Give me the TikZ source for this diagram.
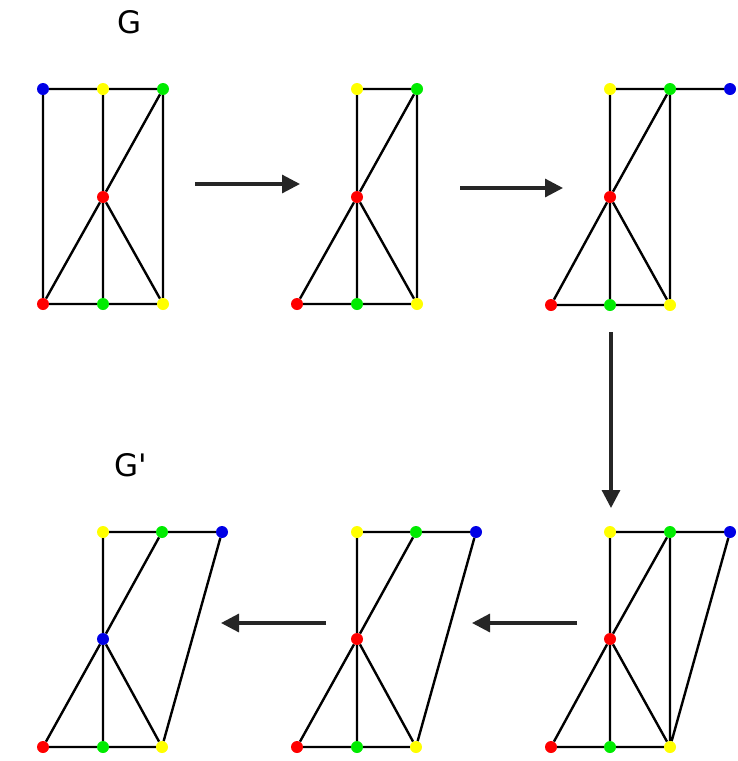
\documentclass[tikz,border=0pt]{standalone}
\usepackage{fontspec}
\setmainfont{DejaVu Sans}[Ligatures=TeXOff]
\usetikzlibrary{arrows.meta}
\definecolor{vred}{RGB}{255,0,0}
\definecolor{vyel}{RGB}{255,255,0}
\definecolor{vgrn}{RGB}{0,235,0}
\definecolor{vblu}{RGB}{0,0,230}
\begin{document}
\begin{tikzpicture}[x=1pt,y=-1pt,
  v/.style={circle,inner sep=0pt,minimum size=12pt,fill=#1},
  ed/.style={line width=2.4pt,black},
  flow/.style={line width=3.2pt,black!85,-{Triangle[length=18pt,width=18pt]}},
  lbl/.style={font=\fontsize{31}{31}\selectfont,inner sep=0pt}]
\useasboundingbox (0,0) rectangle (737,761);
% labels
\node[lbl] (G) at (130,22) {G};
\node[lbl] (Gp) at (131,465) {G'};
% ---------- panel 1
\node[v=vblu] (a1) at (43,89) {};
\node[v=vyel] (a2) at (103,89) {};
\node[v=vgrn] (a3) at (163,89) {};
\node[v=vred] (a4) at (103,197) {};
\node[v=vred] (a5) at (43,304) {};
\node[v=vgrn] (a6) at (103,304) {};
\node[v=vyel] (a7) at (163,304) {};
\draw[ed] (a1)--(a2) (a2)--(a3) (a1)--(a5) (a2)--(a4) (a4)--(a6) (a3)--(a7)
  (a5)--(a6) (a6)--(a7) (a3)--(a4) (a4)--(a5) (a4)--(a7);
% ---------- panel 2
\node[v=vyel] (b2) at (357,89) {};
\node[v=vgrn] (b3) at (417,89) {};
\node[v=vred] (b4) at (357,197) {};
\node[v=vred] (b5) at (297,304) {};
\node[v=vgrn] (b6) at (357,304) {};
\node[v=vyel] (b7) at (417,304) {};
\draw[ed] (b2)--(b3) (b2)--(b4) (b4)--(b6) (b3)--(b7)
  (b5)--(b6) (b6)--(b7) (b3)--(b4) (b4)--(b5) (b4)--(b7);
% ---------- panel 3
\node[v=vyel] (c2) at (610,89) {};
\node[v=vgrn] (c3) at (670,89) {};
\node[v=vblu] (c1) at (730,89) {};
\node[v=vred] (c4) at (610,197) {};
\node[v=vred] (c5) at (551,305) {};
\node[v=vgrn] (c6) at (610,305) {};
\node[v=vyel] (c7) at (670,305) {};
\draw[ed] (c2)--(c3) (c3)--(c1) (c2)--(c4) (c4)--(c6) (c3)--(c7)
  (c5)--(c6) (c6)--(c7) (c3)--(c4) (c4)--(c5) (c4)--(c7);
% ---------- panel 4
\node[v=vyel] (d2) at (610,532) {};
\node[v=vgrn] (d3) at (670,532) {};
\node[v=vblu] (d1) at (730,532) {};
\node[v=vred] (d4) at (610,639) {};
\node[v=vred] (d5) at (551,747) {};
\node[v=vgrn] (d6) at (610,747) {};
\node[v=vyel] (d7) at (670,747) {};
\draw[ed] (d2)--(d3) (d3)--(d1) (d2)--(d4) (d4)--(d6) (d3)--(d7) (d1)--(d7)
  (d5)--(d6) (d6)--(d7) (d3)--(d4) (d4)--(d5) (d4)--(d7);
% ---------- panel 5
\node[v=vyel] (e2) at (357,532) {};
\node[v=vgrn] (e3) at (416,532) {};
\node[v=vblu] (e1) at (476,532) {};
\node[v=vred] (e4) at (357,639) {};
\node[v=vred] (e5) at (297,747) {};
\node[v=vgrn] (e6) at (357,747) {};
\node[v=vyel] (e7) at (416,747) {};
\draw[ed] (e2)--(e3) (e3)--(e1) (e2)--(e4) (e4)--(e6) (e1)--(e7)
  (e5)--(e6) (e6)--(e7) (e3)--(e4) (e4)--(e5) (e4)--(e7);
% ---------- panel 6
\node[v=vyel] (f2) at (103,532) {};
\node[v=vgrn] (f3) at (162,532) {};
\node[v=vblu] (f1) at (222,532) {};
\node[v=vblu] (f4) at (103,639) {};
\node[v=vred] (f5) at (43,747) {};
\node[v=vgrn] (f6) at (103,747) {};
\node[v=vyel] (f7) at (162,747) {};
\draw[ed] (f2)--(f3) (f3)--(f1) (f2)--(f4) (f4)--(f6) (f1)--(f7)
  (f5)--(f6) (f6)--(f7) (f3)--(f4) (f4)--(f5) (f4)--(f7);
% ---------- arrows
\coordinate (s1) at (195,184); \coordinate (t1) at (300,184);
\coordinate (s2) at (460,188); \coordinate (t2) at (563,188);
\coordinate (s3) at (611,332); \coordinate (t3) at (611,508);
\coordinate (s4) at (577,623); \coordinate (t4) at (472,623);
\coordinate (s5) at (326,623); \coordinate (t5) at (221,623);
\draw[flow] (s1)--(t1);
\draw[flow] (s2)--(t2);
\draw[flow] (s3)--(t3);
\draw[flow] (s4)--(t4);
\draw[flow] (s5)--(t5);
\end{tikzpicture}
\end{document}
